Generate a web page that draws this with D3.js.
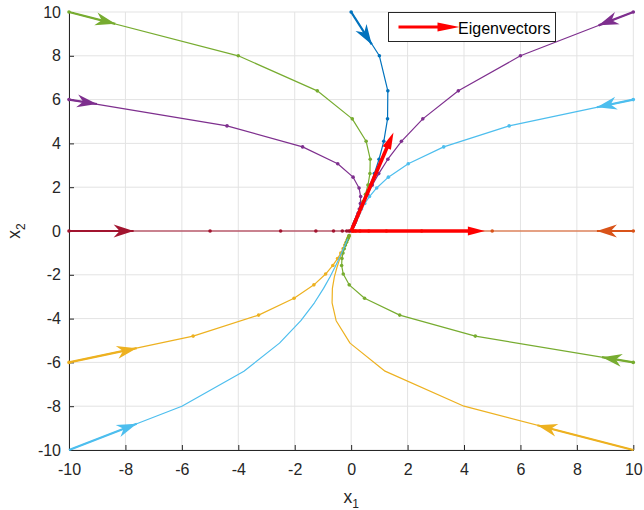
<!DOCTYPE html>
<html>
<head>
<meta charset="utf-8">
<script src="https://cdn.jsdelivr.net/npm/d3@7"></script>
<style>
  body { margin: 0; background: #fff; }
  text { font-family: "Liberation Sans", Arial, Helvetica, sans-serif; }
</style>
</head>
<body>
<svg id="chart" width="644" height="510"></svg>
<script>
// tick labels
const xTicks = [-10, -8, -6, -4, -2, 0, 2, 4, 6, 8, 10];
const yTicks = [-10, -8, -6, -4, -2, 0, 2, 4, 6, 8, 10];

// trajectories [x1, x2]
const trajTop = [[0,10],[1.0,8.0],[1.3,6.4],[1.29,5.12],[1.157,4.096],[0.988,3.277],[0.822,2.621],[0.673,2.097],[0.546,1.678],[0.441,1.342],[0.355,1.074],[0.285,0.859],[0.228,0.687],[0.183,0.55],[0.146,0.44],[0.117,0.352]];
const trajRight = [[10,0],[5,0],[2.5,0],[1.25,0],[0.625,0],[0.3125,0],[0.156,0],[0.078,0],[0.039,0]];
const trajBottomRight = [[10,-10],[4,-8],[1.2,-6.4],[-0.04,-5.12],[-0.532,-4.096],[-0.676,-3.277],[-0.665,-2.621],[-0.595,-2.097],[-0.507,-1.678],[-0.421,-1.342],[-0.345,-1.074],[-0.28,-0.859],[-0.226,-0.687],[-0.182,-0.55],[-0.146,-0.44],[-0.117,-0.352]];
const trajTopRight = [[10,10],[6,8],[3.8,6.4],[2.54,5.12],[1.782,4.096],[1.301,3.277],[0.978,2.621],[0.751,2.097],[0.585,1.678],[0.46,1.342],[0.364,1.074],[0.29,0.859],[0.231,0.687],[0.184,0.55],[0.147,0.44],[0.118,0.352]];
const trajTopLeft = [[-10,10],[-4,8],[-1.2,6.4],[0.04,5.12],[0.532,4.096],[0.676,3.277],[0.665,2.621],[0.595,2.097],[0.507,1.678],[0.421,1.342],[0.345,1.074],[0.28,0.859],[0.226,0.687],[0.182,0.55],[0.146,0.44],[0.117,0.352]];
const trajRightUp = [[10,6],[5.6,4.8],[3.28,3.84],[2.024,3.072],[1.319,2.458],[0.905,1.966],[0.649,1.573],[0.482,1.258],[0.367,1.007],[0.284,0.805],[0.223,0.644],[0.176,0.515],[0.139,0.412],[0.111,0.33],[0.088,0.264],[0.071,0.211]];
const trajLeft = [[-10,0],[-5,0],[-2.5,0],[-1.25,0],[-0.625,0],[-0.3125,0],[-0.156,0],[-0.078,0],[-0.039,0]];
const trajLeftDown = [[-10,-6],[-5.6,-4.8],[-3.28,-3.84],[-2.024,-3.072],[-1.319,-2.458],[-0.905,-1.966],[-0.649,-1.573],[-0.482,-1.258],[-0.367,-1.007],[-0.284,-0.805],[-0.223,-0.644],[-0.176,-0.515],[-0.139,-0.412],[-0.111,-0.33],[-0.088,-0.264],[-0.071,-0.211]];
const trajLeftUp = [[-10,6],[-4.4,4.8],[-1.72,3.84],[-0.476,3.072],[0.069,2.458],[0.28,1.966],[0.337,1.573],[0.326,1.258],[0.289,1.007],[0.245,0.805],[0.203,0.644],[0.166,0.515],[0.134,0.412],[0.108,0.33],[0.087,0.264],[0.07,0.211]];
const trajRightDown = [[10,-6],[4.4,-4.8],[1.72,-3.84],[0.476,-3.072],[-0.069,-2.458],[-0.28,-1.966],[-0.337,-1.573],[-0.326,-1.258],[-0.289,-1.007],[-0.245,-0.805],[-0.203,-0.644],[-0.166,-0.515],[-0.134,-0.412],[-0.108,-0.33],[-0.087,-0.264],[-0.07,-0.211]];
const trajBottomLeft = [[-10,-10],[-6,-8],[-3.8,-6.4],[-2.54,-5.12],[-1.782,-4.096],[-1.301,-3.277],[-0.978,-2.621],[-0.751,-2.097],[-0.585,-1.678],[-0.46,-1.342],[-0.364,-1.074],[-0.29,-0.859],[-0.231,-0.687],[-0.184,-0.55],[-0.147,-0.44],[-0.118,-0.352]];

// tip of the direction arrow drawn from each starting point
const arrowTips = [[0.73,8.52],[8.71,0],[6.6,-8.87],[8.77,9.39],[-8.36,9.46],[8.71,5.65],[-7.71,0],[-7.6,-5.35],[-9.01,5.8],[8.89,-5.76],[-7.6,-8.8]];

// eigenvectors (scaled)
const eigenvectors = [[4.74,0],[1.5,4.5]];

const trajectories = [trajTop, trajRight, trajBottomRight, trajTopRight, trajTopLeft, trajRightUp,
  trajLeft, trajLeftDown, trajLeftUp, trajRightDown, trajBottomLeft];
const colors = ['#0072BD','#D95319','#EDB120','#7E2F8E','#77AC30','#4DBEEE',
  '#A2142F','#EDB120','#7E2F8E','#77AC30','#4DBEEE'];
const showDots = [true, true, false, true, true, true, true, true, true, true, false];

const margin = { top: 12, right: 644 - 633.3, bottom: 510 - 450, left: 69 };
const width = 644 - margin.left - margin.right,
  height = 510 - margin.top - margin.bottom;

const svg = d3.select('#chart')
  .append('g')
  .attr('transform', 'translate(' + margin.left + ',' + margin.top + ')');

const x = d3.scaleLinear().domain([-10, 10]).range([0, width]);
const y = d3.scaleLinear().domain([-10, 10]).range([height, 0]);

// grid
svg.append('g').selectAll('line').data(xTicks).enter().append('line')
  .attr('x1', d => x(d)).attr('x2', d => x(d))
  .attr('y1', 0).attr('y2', height)
  .attr('stroke', '#e3e3e3').attr('stroke-width', 1);
svg.append('g').selectAll('line').data(yTicks).enter().append('line')
  .attr('y1', d => y(d)).attr('y2', d => y(d))
  .attr('x1', 0).attr('x2', width)
  .attr('stroke', '#e3e3e3').attr('stroke-width', 1);

// axes (plain hyphen for negatives, like the original)
const fmt = d => String(d);
const xAxis = svg.append('g')
  .attr('transform', 'translate(0,' + height + ')')
  .call(d3.axisBottom(x).tickValues(xTicks).tickFormat(fmt).tickSizeInner(-5).tickSizeOuter(0).tickPadding(14));
const yAxis = svg.append('g')
  .call(d3.axisLeft(y).tickValues(yTicks).tickFormat(fmt).tickSizeInner(-5).tickSizeOuter(0).tickPadding(8));
[xAxis, yAxis].forEach(a => {
  a.select('.domain').attr('stroke', '#262626');
  a.selectAll('.tick line').attr('stroke', '#262626');
  a.selectAll('.tick text').attr('fill', '#262626')
    .style('font-size', '16px').style('font-family', '"Liberation Sans", Arial, sans-serif');
});

// axis labels
const xl = svg.append('text')
  .attr('x', x(0)).attr('y', 503 - margin.top)
  .attr('text-anchor', 'middle').attr('fill', '#262626').style('font-size', '17.5px');
xl.append('tspan').text('x');
xl.append('tspan').attr('dy', 5).style('font-size', '12px').text('1');

const yl = svg.append('text')
  .attr('transform', 'translate(' + (20 - margin.left) + ',' + y(0) + ') rotate(-90)')
  .attr('text-anchor', 'middle').attr('fill', '#262626').style('font-size', '17.5px');
yl.append('tspan').text('x');
yl.append('tspan').attr('dy', 5).style('font-size', '12px').text('2');

function headPath(tx, ty, ang, L, W, N) {
  const c = Math.cos(ang), s = Math.sin(ang);
  const p = (a, b) => (tx + a * c - b * s) + ',' + (ty + a * s + b * c);
  return 'M' + p(0, 0) + 'L' + p(-L, -W) + 'L' + p(-N, 0) + 'L' + p(-L, W) + 'Z';
}

const line = d3.line().x(d => x(d[0])).y(d => y(d[1]));

trajectories.forEach((pts, i) => {
  const g = svg.append('g');
  g.append('path')
    .datum(pts)
    .attr('fill', 'none')
    .attr('stroke', colors[i])
    .attr('stroke-width', 1.2)
    .attr('stroke-linejoin', 'round')
    .attr('d', line);
  if (showDots[i]) {
    g.selectAll('circle').data(pts).enter().append('circle')
      .attr('cx', d => x(d[0])).attr('cy', d => y(d[1]))
      .attr('r', 1.8).attr('fill', colors[i]);
  }
  // direction arrow at the start
  const sx = x(pts[0][0]), sy = y(pts[0][1]);
  const tx = x(arrowTips[i][0]), ty = y(arrowTips[i][1]);
  const ang = Math.atan2(ty - sy, tx - sx);
  g.append('line')
    .attr('x1', sx).attr('y1', sy).attr('x2', tx).attr('y2', ty)
    .attr('stroke', colors[i]).attr('stroke-width', 2.2);
  g.append('path')
    .attr('d', headPath(tx, ty, ang, 20, 6.5, 14))
    .attr('fill', colors[i]);
});

// eigenvectors
eigenvectors.forEach(v => {
  const ox = x(0), oy = y(0), tx = x(v[0]), ty = y(v[1]);
  const ang = Math.atan2(ty - oy, tx - ox);
  svg.append('line')
    .attr('x1', ox).attr('y1', oy)
    .attr('x2', tx - 14 * Math.cos(ang)).attr('y2', ty - 14 * Math.sin(ang))
    .attr('stroke', '#ff0000').attr('stroke-width', 3.6);
  svg.append('path')
    .attr('d', headPath(tx, ty, ang, 17, 4.5, 17))
    .attr('fill', '#ff0000');
});

// legend
const lg = svg.append('g').attr('transform', 'translate(' + (388.5 - margin.left) + ',' + (12.5 - margin.top) + ')');
lg.append('rect').attr('width', 167).attr('height', 29)
  .attr('fill', '#fff').attr('stroke', '#262626').attr('stroke-width', 1);
lg.append('line').attr('x1', 10).attr('x2', 56).attr('y1', 14.5).attr('y2', 14.5)
  .attr('stroke', '#ff0000').attr('stroke-width', 3);
lg.append('path').attr('d', headPath(71, 14.5, 0, 22, 4.5, 22)).attr('fill', '#ff0000');
lg.append('text').attr('x', 69.5).attr('y', 21).attr('fill', '#000')
  .style('font-size', '16px').text('Eigenvectors');
</script>
</body>
</html>
